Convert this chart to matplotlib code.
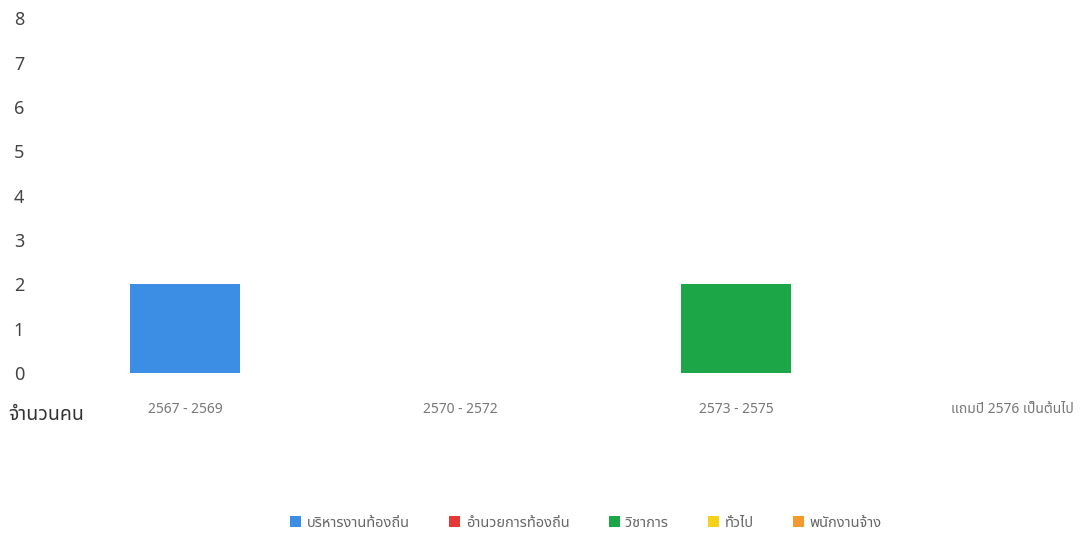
import matplotlib
matplotlib.use("Agg")
import numpy as np
import matplotlib.pyplot as plt
from matplotlib.patches import Patch

plt.rcParams['font.family'] = ['Noto Sans Thai', 'Noto Sans', 'DejaVu Sans']

periods = ['2567 - 2569', '2570 - 2572', '2573 - 2575', 'แถมปี 2576 เป็นต้นไป']
series = ['บริหารงานท้องถิ่น', 'อำนวยการท้องถิ่น', 'วิชาการ', 'ทั่วไป', 'พนักงานจ้าง']
values = {
    'บริหารงานท้องถิ่น': [2, 0, 0, 0],
    'อำนวยการท้องถิ่น': [0, 0, 0, 0],
    'วิชาการ': [0, 0, 2, 0],
    'ทั่วไป': [0, 0, 0, 0],
    'พนักงานจ้าง': [0, 0, 0, 0],
}
colors = ['#3b8ee3', '#e53935', '#1da648', '#f7d117', '#f5992f']
y_ticks = [0, 1, 2, 3, 4, 5, 6, 7, 8]

fig = plt.figure(figsize=(10.81, 5.36), dpi=100)
ax = fig.add_axes([0.0435, 0.304, 0.9565, 0.662])

x = np.arange(len(periods))
bottom = np.zeros(len(periods))
# stacked so each period's single non-zero bar sits centred on its label
for name, col in zip(series, colors):
    v = np.array(values[name], dtype=float)
    ax.bar(x, v, width=0.4, bottom=bottom, color=col, edgecolor='none')
    bottom += v

ax.set_xlim(-0.5, 3.25)
ax.set_ylim(0, 8)
ax.set_yticks(y_ticks)
ax.set_yticklabels([str(t) for t in y_ticks], fontsize=13, color='#444444')
ax.set_xticks(x)
ax.set_xticklabels(periods, fontsize=10, color='#777777')
ax.tick_params(axis='both', length=0)
ax.tick_params(axis='y', pad=16.5)
ax.tick_params(axis='x', pad=20.5)
for s in ax.spines.values():
    s.set_visible(False)

fig.text(0.008, 0.226, 'จำนวนคน', fontsize=14, color='#333333', va='center')

handles = [Patch(facecolor=c, edgecolor='none') for c in colors]
fig.legend(handles, series, loc='center', bbox_to_anchor=(0.542, 0.024), ncol=5,
           frameon=False, fontsize=10.5, labelcolor='#666666', handlelength=0.75,
           handleheight=0.75, handletextpad=0.4, columnspacing=2.7)

fig.savefig('out.png')
